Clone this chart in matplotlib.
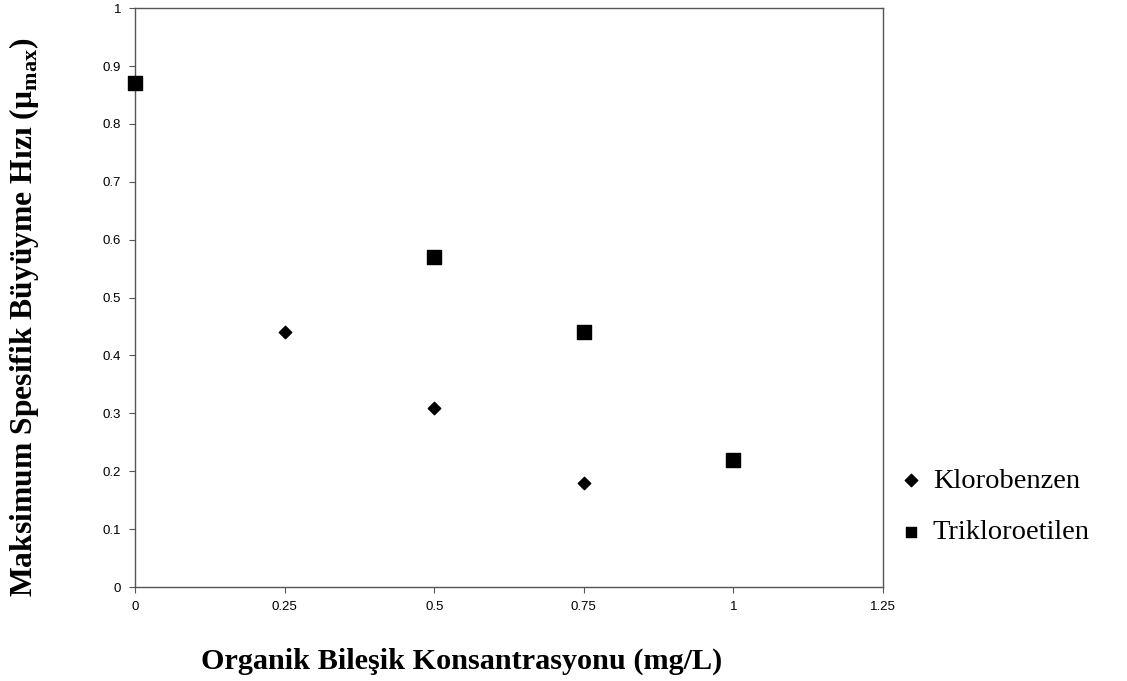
import matplotlib.pyplot as plt

plt.rcParams['mathtext.fontset'] = 'custom'
plt.rcParams['mathtext.bf'] = 'Liberation Serif:bold'
plt.rcParams['mathtext.rm'] = 'Liberation Serif'

kb_x = [0.25, 0.5, 0.75]
kb_y = [0.44, 0.31, 0.18]
tce_x = [0, 0.5, 0.75, 1]
tce_y = [0.87, 0.57, 0.44, 0.22]

xticks = [0, 0.25, 0.5, 0.75, 1, 1.25]
xtick_labels = ['0', '0.25', '0.5', '0.75', '1', '1.25']
yticks = [0, 0.1, 0.2, 0.3, 0.4, 0.5, 0.6, 0.7, 0.8, 0.9, 1]
ytick_labels = ['0', '0.1', '0.2', '0.3', '0.4', '0.5', '0.6', '0.7', '0.8', '0.9', '1']

fig = plt.figure(figsize=(11.27, 6.81), dpi=100)
ax = fig.add_axes([0.1198, 0.138, 0.6637, 0.850])

ax.scatter(kb_x, kb_y, marker='D', s=40, color='black', label='Klorobenzen', clip_on=False, zorder=3)
ax.scatter(tce_x, tce_y, marker='s', s=110, color='black', label='Trikloroetilen', clip_on=False, zorder=3)

ax.set_xlim(0, 1.25)
ax.set_ylim(0, 1)
ax.set_xticks(xticks)
ax.set_xticklabels(xtick_labels, family='Liberation Sans', fontsize=9.5)
ax.set_yticks(yticks)
ax.set_yticklabels(ytick_labels, family='Liberation Sans', fontsize=9.5)
ax.tick_params(direction='out', length=4, width=0.8, color='#555555', pad=6)
for s in ax.spines.values():
    s.set_color('#555555')
    s.set_linewidth(1.0)

ax.set_xlabel('Organik Bileşik Konsantrasyonu (mg/L)', family='Liberation Serif',
              fontweight='bold', fontsize=21.8)
ax.xaxis.set_label_coords(0.436, -0.105)
ax.set_ylabel(r'Maksimum Spesifik Büyüyme Hızı (μ$_{\mathbf{max}}$)', family='Liberation Serif',
              fontweight='bold', fontsize=22.8)
ax.yaxis.set_label_coords(-0.126, 0.466)

leg = ax.legend(loc='center left', bbox_to_anchor=(0.7986, 0.256), bbox_transform=fig.transFigure,
                frameon=False, prop={'family': 'Liberation Serif', 'size': 20.5},
                handletextpad=0.35, handlelength=0.8, labelspacing=0.9,
                borderpad=0, borderaxespad=0)
leg.legend_handles[0].set_sizes([40])
leg.legend_handles[1].set_sizes([42])

fig.savefig('out.png', dpi=100)
